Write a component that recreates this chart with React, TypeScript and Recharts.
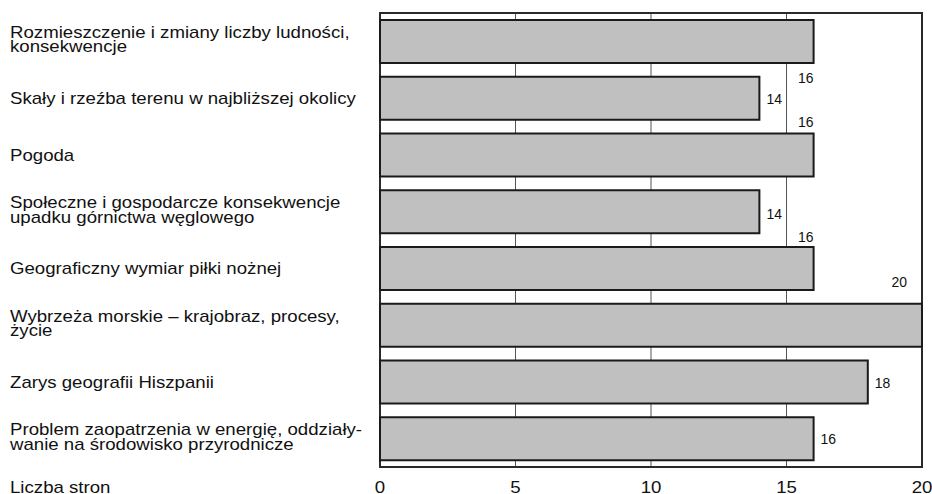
import React from "react";
import { BarChart, Bar, XAxis, YAxis, CartesianGrid, ReferenceArea, LabelList } from "recharts";

const categories: string[] = [
  "Rozmieszczenie i zmiany liczby ludności,\nkonsekwencje",
  "Skały i rzeźba terenu w najbliższej okolicy",
  "Pogoda",
  "Społeczne i gospodarcze konsekwencje\nupadku górnictwa węglowego",
  "Geograficzny wymiar piłki nożnej",
  "Wybrzeża morskie – krajobraz, procesy,\nżycie",
  "Zarys geografii Hiszpanii",
  "Problem zaopatrzenia w energię, oddziały-\nwanie na środowisko przyrodnicze",
];
const pages: number[] = [16, 14, 16, 14, 16, 20, 18, 16];
const xTicks: number[] = [0, 5, 10, 15, 20];
const axisTitle = "Liczba stron";

const data = categories.map((c, i) => ({ name: c, value: pages[i] }));

// label placement style per bar (as in the original figure)
const labelStyle = [
  { anchor: "end", dx: 0, dy: 36 },
  { anchor: "start", dx: 7, dy: 0.5 },
  { anchor: "end", dx: 0, dy: -34 },
  { anchor: "start", dx: 7, dy: 2 },
  { anchor: "end", dx: 0, dy: -32.5 },
  { anchor: "end", dx: -15, dy: -43.5 },
  { anchor: "start", dx: 7, dy: 0 },
  { anchor: "start", dx: 7, dy: 0 },
];

const FONT = "'Liberation Sans', Arial, sans-serif";
const WIDE = 1.165;

const CategoryTick = (props: any) => {
  const { y, payload } = props;
  const lines: string[] = String(payload.value).split("\n");
  const base = lines.length === 1 ? y + 5.7 : y - 3.3;
  return (
    <text
      x={0}
      y={0}
      transform={`translate(10, ${base}) scale(${WIDE}, 1)`}
      fontSize={16}
      fontFamily={FONT}
      fill="#111"
      textAnchor="start"
    >
      {lines.map((l, i) => (
        <tspan key={i} x={0} dy={i === 0 ? 0 : 14.4}>
          {l}
        </tspan>
      ))}
    </text>
  );
};

const ValueTick = (props: any) => {
  const { x, payload } = props;
  return (
    <text
      x={0}
      y={0}
      transform={`translate(${x}, 493) scale(${WIDE}, 1)`}
      fontSize={16}
      fontFamily={FONT}
      fill="#111"
      textAnchor="middle"
    >
      {payload.value}
    </text>
  );
};

const ValueLabel = (props: any) => {
  const { x, y, width, height, value, index } = props;
  const s = labelStyle[index] || labelStyle[0];
  const end = Number(x) + Number(width);
  const cy = Number(y) + Number(height) / 2 + s.dy;
  return (
    <text
      x={0}
      y={0}
      transform={`translate(${end + s.dx}, ${cy + 5.6}) scale(0.9, 1)`}
      fontSize={15.5}
      fontFamily={FONT}
      fill="#111"
      textAnchor={s.anchor as any}
    >
      {value}
    </text>
  );
};

export default function App() {
  return (
    <div style={{ position: "absolute", left: 0, top: 0, width: 932, height: 494, background: "#fff" }}>
      <BarChart
        width={932}
        height={494}
        data={data}
        layout="vertical"
        margin={{ top: 13, right: 10, bottom: 0, left: 10 }}
        barCategoryGap={0}
      >
        <CartesianGrid horizontal={false} vertical={true} stroke="#555" strokeWidth={1} />
        <XAxis
          type="number"
          domain={[0, 20]}
          ticks={xTicks}
          height={27}
          axisLine={false}
          tickLine={false}
          tick={<ValueTick />}
          interval={0}
          label={{
            content: () => (
              <text
                x={0}
                y={0}
                transform={`translate(10, 493) scale(${WIDE}, 1)`}
                fontSize={16}
                fontFamily={FONT}
                fill="#111"
                textAnchor="start"
              >
                {axisTitle}
              </text>
            ),
          }}
        />
        <YAxis
          type="category"
          dataKey="name"
          width={370}
          axisLine={false}
          tickLine={false}
          tick={<CategoryTick />}
          interval={0}
        />
        <ReferenceArea x1={0} x2={20} fill="none" fillOpacity={0} stroke="#2a2a2a" strokeWidth={2} ifOverflow="extendDomain" />
        <Bar dataKey="value" barSize={43} fill="#c0c0c0" stroke="#1a1a1a" strokeWidth={2} isAnimationActive={false}>
          <LabelList dataKey="value" content={<ValueLabel />} />
        </Bar>
      </BarChart>
    </div>
  );
}
